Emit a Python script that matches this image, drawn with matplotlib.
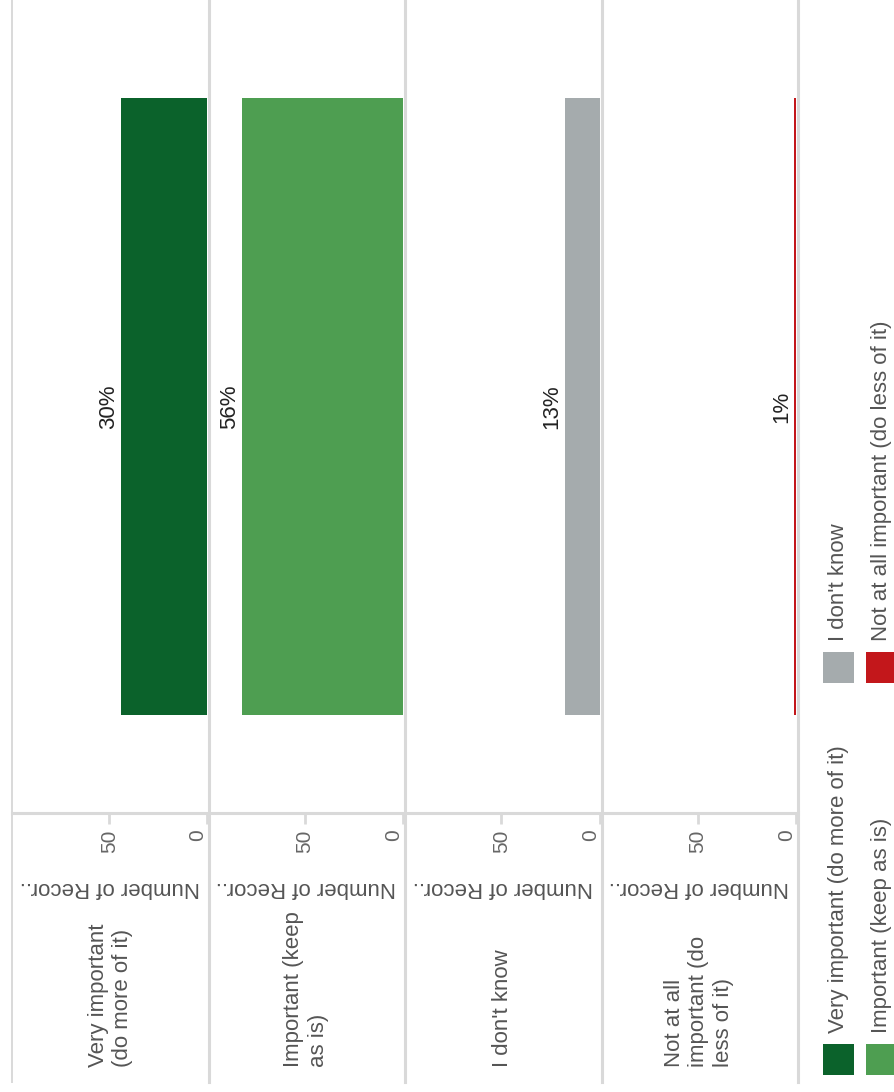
import matplotlib
matplotlib.use("Agg")
import matplotlib.pyplot as plt
from matplotlib.lines import Line2D
from matplotlib.patches import Rectangle

plt.rcParams['font.family'] = ['Liberation Sans', 'DejaVu Sans']

# data
categories = ["Very important\n(do more of it)", "Important (keep\nas is)",
              "I don't know", "Not at all\nimportant (do\nless of it)"]
legend_labels = ["Very important (do more of it)", "Important (keep as is)",
                 "I don't know", "Not at all important (do less of it)"]
counts = [44, 82, 18, 1]
pct_labels = ["30%", "56%", "13%", "1%"]
colors = ['#0b622b', '#4e9e51', '#a5abad', '#c3171b']
tick_vals = [0, 50]
axis_title = "Number of Recor.."

W, H = 895, 1092
fig = plt.figure(figsize=(W / 100, H / 100), dpi=100)
fig.patch.set_facecolor('white')


def fx(px):
    return px / W


def fy(py):
    return 1 - py / H


grid_col = '#d9d9d9'
seps = [12, 207, 403, 600, 796]
plot_bottom = 813

for i in range(4):
    left, right = seps[i], seps[i + 1]
    ax = fig.add_axes([fx(left), fy(plot_bottom), (right - left) / W, plot_bottom / H])
    ax.barh(0, counts[i], height=0.76, color=colors[i], linewidth=0)
    ax.set_xlim(100, 0)
    ax.set_ylim(-0.5, 0.5)
    ax.set_yticks([])
    ax.set_xticks(tick_vals, labels=[str(v) for v in tick_vals])
    ax.tick_params(axis='x', length=8, width=2, color=grid_col, pad=4,
                   labelsize=15, labelcolor='#666666', labelrotation=90)
    for lab in ax.get_xticklabels():
        if lab.get_text() == '0':
            lab.set_horizontalalignment('right')
    for s in ax.spines.values():
        s.set_visible(False)
    ax.annotate(pct_labels[i], xy=(counts[i], 0), xytext=(-5, 0),
                textcoords='offset points', rotation=90, rotation_mode='anchor',
                ha='center', va='baseline', fontsize=16, color='#222222')

    # axis title (upside down) and row header
    fig.text(fx(right - 7), fy(887), axis_title, rotation=180, rotation_mode='anchor',
             ha='left', va='center', fontsize=16, color='#555555')
    fig.text(fx((left + right) / 2 + 1), fy(1067), categories[i], rotation=90,
             rotation_mode='anchor', ha='left', va='center', multialignment='left',
             fontsize=16, color='#555555', linespacing=1.2)

# panel separators (just right of each panel edge)
for j, x in enumerate(seps):
    xx = x if j == 0 else x + 1.8
    fig.add_artist(Line2D([fx(xx), fx(xx)], [fy(0), fy(1082)], color=grid_col,
                          lw=1.4 if j == 0 else 2.2))
fig.add_artist(Line2D([fx(seps[0]), fx(seps[-1] + 2)], [fy(plot_bottom), fy(plot_bottom)],
                      color=grid_col, lw=2.2))

# legend
leg_pos = [(823, 1075), (866, 1075), (823, 683), (866, 683)]
for k, (lx, ly) in enumerate(leg_pos):
    fig.add_artist(Rectangle((fx(lx), fy(ly)), 31 / W, 31 / H, transform=fig.transFigure,
                             color=colors[k], lw=0))
    fig.text(fx(lx + 15.5), fy(ly - 42), legend_labels[k], rotation=90,
             rotation_mode='anchor', ha='left', va='center', fontsize=16, color='#555555')

fig.savefig('out.png', dpi=100, facecolor='white')
